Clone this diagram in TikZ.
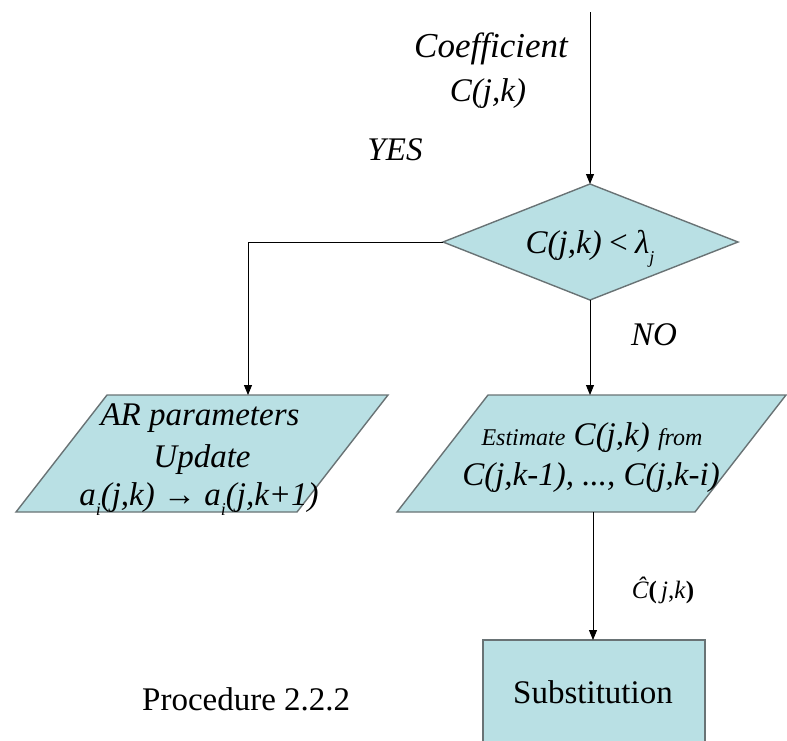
\documentclass[tikz,border=0pt]{standalone}
\usepackage{fontspec}
\setmainfont{Liberation Serif}
\usetikzlibrary{arrows.meta}
\definecolor{boxfill}{RGB}{185,224,228}
\definecolor{boxedge}{RGB}{105,115,117}
% text sizes (1pt = one unit of the drawing)
\newcommand\bigtxt{\fontsize{33}{40}\selectfont}
\newcommand\midtxt{\fontsize{24}{28}\selectfont}
\newcommand\lowidx[1]{\raisebox{-0.32em}{\fontsize{18}{18}\selectfont #1}}
\begin{document}
\begin{tikzpicture}[x=1pt,y=-1pt,
  block/.style={fill=boxfill,draw=boxedge,line width=1.4pt,line join=miter},
  flow/.style={draw=black,line width=0.9pt,-{Triangle[length=10pt,width=8pt]}},
  label/.style={inner sep=0pt,anchor=base,font=\bigtxt\itshape},
  plain/.style={inner sep=0pt,anchor=base,font=\bigtxt}]
\clip (0,0) rectangle (787,740);

% decision diamond
\coordinate (dT) at (590,184);
\coordinate (dR) at (738,242);
\coordinate (dB) at (590,300);
\coordinate (dL) at (443,242);
\path[block] (dT) -- (dR) -- (dB) -- (dL) -- cycle;

% parameter update (left parallelogram)
\coordinate (aTL) at (107,395);
\coordinate (aTR) at (388,395);
\coordinate (aBR) at (297,512);
\coordinate (aBL) at (16,512);
\path[block] (aTL) -- (aTR) -- (aBR) -- (aBL) -- cycle;

% estimation (right parallelogram)
\coordinate (eTL) at (488,395);
\coordinate (eTR) at (786,395);
\coordinate (eBR) at (695,512);
\coordinate (eBL) at (397,512);
\path[block] (eTL) -- (eTR) -- (eBR) -- (eBL) -- cycle;

% substitution block
\coordinate (sTL) at (483,640);
\coordinate (sBR) at (705,780);
\path[block] (sTL) rectangle (sBR);

% connector end points
\coordinate (in) at (590,12);
\coordinate (aT) at (248,395);
\coordinate (eT) at (590,395);
\coordinate (eB) at (593,512);
\coordinate (sT) at (593,640);

\draw[flow] (in) -- (dT);
\draw[flow] (dL) -| (aT);
\draw[flow] (dB) -- (eT);
\draw[flow] (eB) -- (sT);

% texts
\node[label,font=\fontsize{35}{40}\selectfont\itshape] (coef1) at (491,57) {Coefficient};
\node[label] (coef2) at (488,101) {C(j,k)};
\node[label] (yes) at (395,160) {YES};
\node[label] (no) at (654,345) {NO};
\node[label] (test) at (590,253) {C(j,k)\,<\,λ\lowidx{j}};

\node[label] (ar1) at (200,425) {AR parameters};
\node[label] (ar2) at (202,467) {Update};
\node[label] (ar3) at (199,505) {a\lowidx{i}(j,k) → a\lowidx{i}(j,k+1)};

\node[label] (est1) at (592,445) {{\midtxt Estimate} C(j,k) {\midtxt from}};
\node[label] (est2) at (591,485) {C(j,k-1), ..., C(j,k-i)};

\node[inner sep=0pt,anchor=base,font=\fontsize{25}{28}\selectfont] (chat) at (663,598)
  {\textit{Ĉ}\textbf{(}\,\textit{j},\textit{k}\textbf{)}};

\node[plain] (subst) at (593,703) {Substitution};
\node[plain,anchor=base west] (proc) at (142,710) {Procedure 2.2.2};
\end{tikzpicture}
\end{document}
